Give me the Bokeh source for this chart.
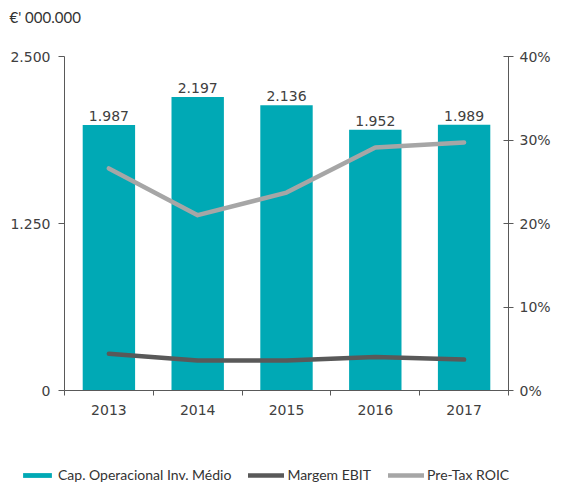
from bokeh.plotting import figure
from bokeh.models import (Range1d, LinearAxis, FixedTicker, Legend, LegendItem,
                          ColumnDataSource, Title)
from bokeh.core.properties import value
from bokeh.embed import file_html
from bokeh.resources import INLINE

years = ["2013", "2014", "2015", "2016", "2017"]
cap_operacional = [1987, 2197, 2136, 1952, 1989]
cap_labels = ["1.987", "2.197", "2.136", "1.952", "1.989"]
margem_ebit = [4.4, 3.6, 3.6, 4.0, 3.7]
pretax_roic = [26.6, 21.0, 23.7, 29.1, 29.7]
left_ticks = [0, 1250, 2500]
left_tick_labels = ["0", "1.250", "2.500"]
right_ticks = [0, 10, 20, 30, 40]
series_names = ["Cap. Operacional Inv. Médio", "Margem EBIT", "Pre-Tax ROIC"]

TEAL = "#00A9B5"
DARK = "#595959"
LIGHT = "#A6A6A6"
AXIS = "#595959"
TXT = "#404040"
TICK_FONT = "DejaVu Sans"
LEG_FONT = "Lato"

xs = list(range(len(years)))
src = ColumnDataSource(dict(x=xs, cap=cap_operacional, lab=cap_labels,
                            ebit=margem_ebit, roic=pretax_roic))

p = figure(width=564, height=455, output_backend="svg", toolbar_location=None,
           x_range=Range1d(-0.5, len(years) - 0.5), y_range=Range1d(0, 2500),
           x_axis_location=None, y_axis_location=None,
           min_border_left=64, min_border_right=56, min_border_top=56,
           min_border_bottom=65, title="€' 000.000")
p.outline_line_color = None
p.xgrid.grid_line_color = None
p.ygrid.grid_line_color = None
p.title.text_font = LEG_FONT
p.title.text_font_size = "15px"
p.title.text_font_style = "normal"
p.title.text_color = "#333333"
p.title.offset = -55
# spacer between title and frame
p.add_layout(Title(text=" ", text_font_size="12px"), "above")

p.extra_y_ranges = {"pct": Range1d(0, 40)}

bars = p.vbar(x="x", top="cap", width=0.59, source=src, color=TEAL, line_color=None)
p.text(x="x", y="cap", text="lab", source=src, text_align="center",
       text_baseline="bottom", y_offset=-4, text_font=value(TICK_FONT),
       text_font_size="14px", text_color=TXT)
l1 = p.line(x="x", y="ebit", source=src, y_range_name="pct", color=DARK,
            line_width=4.5, line_cap="round", line_join="round")
l2 = p.line(x="x", y="roic", source=src, y_range_name="pct", color=LIGHT,
            line_width=4.5, line_cap="round", line_join="round")

# bottom axis: labels at centres, ticks at boundaries
xaxis = LinearAxis(ticker=FixedTicker(ticks=xs,
                                      minor_ticks=[i - 0.5 for i in range(len(years) + 1)]))
xaxis.major_label_overrides = {i: y for i, y in zip(xs, years)}
xaxis.major_tick_line_color = None
xaxis.minor_tick_line_color = AXIS
xaxis.minor_tick_in = 0
xaxis.minor_tick_out = 5
xaxis.axis_line_color = AXIS
xaxis.major_label_text_font = TICK_FONT
xaxis.major_label_text_font_size = "14px"
xaxis.major_label_text_color = TXT
xaxis.major_label_standoff = 8
p.add_layout(xaxis, "below")

yaxis = LinearAxis(ticker=FixedTicker(ticks=left_ticks, minor_ticks=[]))
yaxis.major_label_overrides = {t: l for t, l in zip(left_ticks, left_tick_labels)}
yaxis.major_tick_in = 0
yaxis.major_tick_out = 6
yaxis.major_tick_line_color = AXIS
yaxis.axis_line_color = AXIS
yaxis.major_label_text_font = TICK_FONT
yaxis.major_label_text_font_size = "14px"
yaxis.major_label_text_color = TXT
yaxis.major_label_standoff = 8
p.add_layout(yaxis, "left")

raxis = LinearAxis(y_range_name="pct",
                   ticker=FixedTicker(ticks=right_ticks, minor_ticks=[]))
raxis.major_label_overrides = {t: f"{t}%" for t in right_ticks}
raxis.major_tick_in = 5
raxis.major_tick_out = 5
raxis.major_tick_line_color = AXIS
raxis.axis_line_color = AXIS
raxis.major_label_text_font = TICK_FONT
raxis.major_label_text_font_size = "14px"
raxis.major_label_text_color = TXT
raxis.major_label_standoff = 6
p.add_layout(raxis, "right")

# legend strip (separate root so it is not clipped by the main frame)
lg = figure(width=564, height=28, output_backend="svg", toolbar_location=None,
            x_range=Range1d(0, 1), y_range=Range1d(0, 1),
            x_axis_location=None, y_axis_location=None,
            min_border_left=0, min_border_right=0, min_border_top=0,
            min_border_bottom=0)
lg.outline_line_color = None
lg.xgrid.grid_line_color = None
lg.ygrid.grid_line_color = None
off = ColumnDataSource(dict(x=[5, 6], y=[5, 6]))
r1 = lg.vbar(x="x", top="y", width=0.5, source=off, color=TEAL, line_color=None)
r2 = lg.line(x="x", y="y", source=off, color=DARK, line_width=4.5, line_cap="round")
r3 = lg.line(x="x", y="y", source=off, color=LIGHT, line_width=4.5, line_cap="round")
legend = Legend(items=[LegendItem(label=series_names[0], renderers=[r1]),
                       LegendItem(label=series_names[1], renderers=[r2]),
                       LegendItem(label=series_names[2], renderers=[r3])],
                orientation="horizontal", location=(19, 0),
                label_text_font=LEG_FONT, label_text_font_size="14px",
                label_text_color="#333333", glyph_width=36, glyph_height=6,
                label_standoff=3, spacing=17, padding=0, margin=0,
                label_height=14,
                border_line_color=None, background_fill_alpha=0)
lg.add_layout(legend, "center")

open("out.html", "w").write(file_html([p, lg], INLINE))
